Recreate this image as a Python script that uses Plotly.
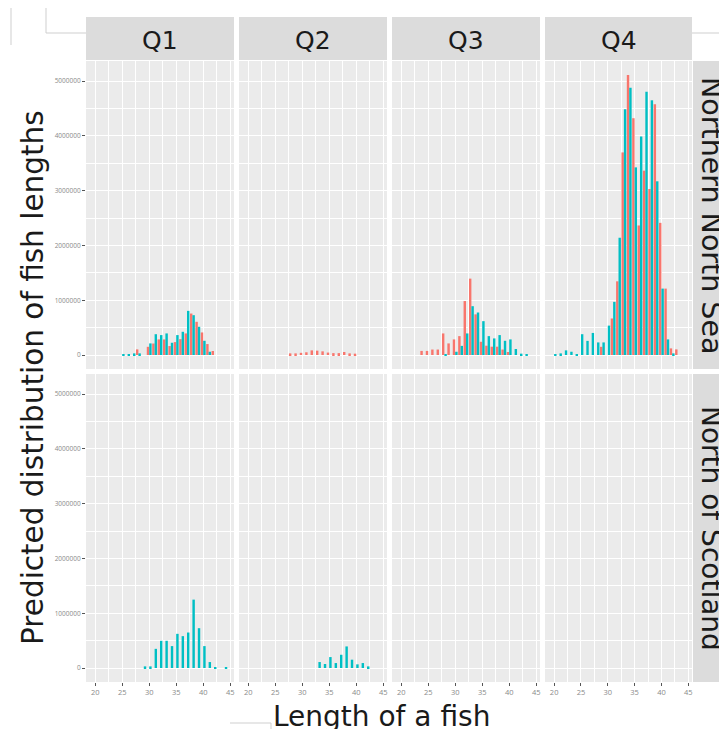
import plotly.graph_objects as go

W, H = 719, 729
RED = "#F8766D"
TEAL = "#00BFC4"

quarters = ["Q1", "Q2", "Q3", "Q4"]
areas = ["Northern North Sea", "North of Scotland"]
x_tick_vals = [20, 25, 30, 35, 40, 45]
y_tick_vals = [0, 1000000, 2000000, 3000000, 4000000, 5000000]

# ---- Northern North Sea ----
nns_q1_len = list(range(25, 43))
nns_q1_red = [0, 0, 0, 103000, 0, 150000, 210000, 285000, 285000, 164000, 236000,
              290000, 394000, 757000, 606000, 412000, 200000, 73000]
nns_q1_teal = [10000, 10000, 30000, 30000, 0, 212000, 380000, 364000, 394000, 224000,
               364000, 424000, 806000, 727000, 515000, 260000, 60000, 0]

nns_q2_len = list(range(28, 41))
nns_q2_red = [30000, 30000, 40000, 50000, 85000, 80000, 67000, 45000, 35000, 35000,
              55000, 30000, 25000]
nns_q2_teal = [0] * 13

nns_q3_len = list(range(24, 44))
nns_q3_red = [75000, 75000, 100000, 100000, 394000, 212000, 285000, 345000, 985000,
              1394000, 742000, 242000, 170000, 152000, 152000, 100000, 55000, 0, 0, 0]
nns_q3_teal = [0, 0, 0, 0, 10000, 0, 60000, 167000, 394000, 891000, 776000, 618000,
               345000, 303000, 364000, 260000, 285000, 110000, 25000, 12000]

nns_q4_len = list(range(20, 44))
nns_q4_red = [0, 0, 0, 0, 0, 0, 0, 0, 0, 150000, 0, 667000, 1345000, 3697000, 5109000,
              4321000, 2364000, 3364000, 3030000, 4576000, 2412000, 1212000, 121000, 103000]
nns_q4_teal = [18000, 30000, 85000, 60000, 18000, 380000, 258000, 403000, 230000, 230000,
               537000, 970000, 2140000, 4485000, 4879000, 3424000, 3988000, 4806000,
               4648000, 3170000, 1212000, 285000, 30000, 0]

# ---- North of Scotland ----
nos_q1_len = list(range(29, 45))
nos_q1_red = [0] * 16
nos_q1_teal = [30000, 30000, 350000, 497000, 497000, 400000, 624000, 582000, 648000,
               1248000, 727000, 400000, 109000, 18000, 0, 18000]

nos_q2_len = list(range(33, 43))
nos_q2_red = [0] * 10
nos_q2_teal = [109000, 73000, 200000, 91000, 242000, 394000, 152000, 67000, 91000, 30000]

panels = {
    (0, 0): (nns_q1_len, nns_q1_red, nns_q1_teal),
    (0, 1): (nns_q2_len, nns_q2_red, nns_q2_teal),
    (0, 2): (nns_q3_len, nns_q3_red, nns_q3_teal),
    (0, 3): (nns_q4_len, nns_q4_red, nns_q4_teal),
    (1, 0): (nos_q1_len, nos_q1_red, nos_q1_teal),
    (1, 1): (nos_q2_len, nos_q2_red, nos_q2_teal),
}

# ---- layout geometry (pixels) ----
col_px = [(86, 234), (239, 387), (392, 540), (545, 692)]
row_px = [(61, 369), (374, 682)]
X_RANGE = [18.3, 45.7]
Y_RANGE = [-255000, 5365000]
FONT = "DejaVu Sans"


def fx(px):
    return px / W


def fy(py):
    return 1 - py / H


fig = go.Figure()
layout_axes = {}
for r in range(2):
    for c in range(4):
        k = r * 4 + c + 1
        xs = "" if k == 1 else str(k)
        xname, yname = "x" + xs, "y" + xs
        if (r, c) in panels:
            lens, red, teal = panels[(r, c)]
            fig.add_trace(go.Bar(x=lens, y=red, marker=dict(color=RED, line=dict(width=0)),
                                 xaxis=xname, yaxis=yname, showlegend=False, hoverinfo="skip"))
            fig.add_trace(go.Bar(x=lens, y=teal, marker=dict(color=TEAL, line=dict(width=0)),
                                 xaxis=xname, yaxis=yname, showlegend=False, hoverinfo="skip"))
        else:
            # empty facet: invisible placeholder so the panel is drawn
            fig.add_trace(go.Scatter(x=[None], y=[None], mode="markers", xaxis=xname, yaxis=yname,
                                     showlegend=False, hoverinfo="skip"))
        layout_axes["xaxis" + xs] = dict(
            domain=[fx(col_px[c][0]), fx(col_px[c][1])], anchor=yname, range=X_RANGE,
            tickvals=x_tick_vals, showticklabels=(r == 1), ticks="outside" if r == 1 else "",
            ticklen=3, tickcolor="#555555", tickwidth=0.7,
            tickfont=dict(size=7.5, color="#8a8a8a", family="Open Sans"),
            showgrid=True, gridcolor="white", gridwidth=1.1,
            minor=dict(dtick=2.5, tick0=20, showgrid=True, gridcolor="white", gridwidth=0.5),
            zeroline=False, showline=False, fixedrange=True,
        )
        layout_axes["yaxis" + xs] = dict(
            domain=[fy(row_px[r][1]), fy(row_px[r][0])], anchor=xname, range=Y_RANGE,
            tickvals=y_tick_vals, tickformat="d", showticklabels=(c == 0),
            ticks="outside" if c == 0 else "", ticklen=3, tickcolor="#555555", tickwidth=0.7,
            tickfont=dict(size=6.5, color="#8a8a8a", family="Open Sans"),
            showgrid=True, gridcolor="white", gridwidth=1.1,
            minor=dict(dtick=500000, tick0=0, showgrid=True, gridcolor="white", gridwidth=0.5),
            zeroline=False, showline=False, fixedrange=True,
        )

shapes = []
annotations = []
TXT = "#1a1a1a"
STRIP = "#DCDCDC"
# top strips
for c, q in enumerate(quarters):
    shapes.append(dict(type="rect", xref="paper", yref="paper",
                       x0=fx(col_px[c][0]), x1=fx(col_px[c][1]), y0=fy(60), y1=fy(17),
                       fillcolor=STRIP, line=dict(width=0), layer="below"))
    annotations.append(dict(text=q, xref="paper", yref="paper",
                            x=fx((col_px[c][0] + col_px[c][1]) / 2), y=fy(40),
                            xanchor="center", yanchor="middle", showarrow=False,
                            font=dict(size=25, color=TXT, family=FONT)))
# right strips
strip_sizes = [28.5, 28]
for r, a in enumerate(areas):
    shapes.append(dict(type="rect", xref="paper", yref="paper",
                       x0=fx(693), x1=1.0, y0=fy(row_px[r][1]), y1=fy(row_px[r][0]),
                       fillcolor=STRIP, line=dict(width=0), layer="below"))
    annotations.append(dict(text=a, xref="paper", yref="paper",
                            x=fx(712), y=fy((row_px[r][0] + row_px[r][1]) / 2),
                            xanchor="center", yanchor="middle", textangle=90, showarrow=False,
                            font=dict(size=strip_sizes[r], color=TXT, family=FONT)))

# axis titles
annotations.append(dict(text="Length of a fish", xref="paper", yref="paper",
                        x=fx(381), y=fy(716), xanchor="center", yanchor="middle",
                        showarrow=False, font=dict(size=28, color=TXT, family=FONT)))
annotations.append(dict(text="Predicted distribution of fish lengths", xref="paper", yref="paper",
                        x=fx(33), y=fy(378), xanchor="center", yanchor="middle", textangle=-90,
                        showarrow=False, font=dict(size=29.5, color=TXT, family=FONT)))

# faint frame artifacts from the source screenshot
art = "#cfcfcf"
for (x0, y0, x1, y1) in [(11, 8, 11, 45), (46, 8, 46, 33), (46, 33, 86, 33),
                         (692, 33, 719, 33), (230, 723, 271, 723), (271, 723, 271, 729)]:
    shapes.append(dict(type="line", xref="paper", yref="paper",
                       x0=fx(x0), x1=fx(x1), y0=fy(y0), y1=fy(y1),
                       line=dict(color=art, width=1)))

fig.update_layout(
    width=W, height=H, autosize=False,
    margin=dict(l=0, r=0, t=0, b=0),
    paper_bgcolor="white", plot_bgcolor="#EBEBEB",
    barmode="group", bargap=0.1, bargroupgap=0,
    shapes=shapes, annotations=annotations,
    showlegend=False,
    **layout_axes,
)

fig.write_html("out.html", config={"displayModeBar": False},
               post_script="document.body.style.margin='0';document.body.style.overflow='hidden';")
